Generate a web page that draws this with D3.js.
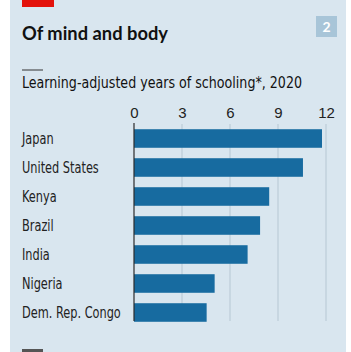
<!DOCTYPE html>
<html lang="en">
  <head>
    <meta charset="UTF-8" />
    <title>Of mind and body</title>
    <script src="https://cdn.jsdelivr.net/npm/d3@7"></script>
    <style>
      body { margin: 0; background: #fff; }
      svg { display: block; }
      text { font-family: "Liberation Sans Narrow", "DejaVu Sans Condensed", sans-serif; }
    </style>
  </head>
  <body>
    <svg width="351" height="352"></svg>
    <script>
      // countries and learning-adjusted years of schooling, 2020
      const countries = ["Japan", "United States", "Kenya", "Brazil", "India", "Nigeria", "Dem. Rep. Congo"];
      const years = [11.75, 10.56, 8.45, 7.88, 7.1, 5.04, 4.54];
      const ticks = [0, 3, 6, 9, 12];

      const svg = d3.select("svg");

      // squeeze a text so it is w pixels wide
      function squeeze(sel, w) {
        sel.each(function () {
          const n = this.getComputedTextLength();
          const tw = typeof w === "function" ? w(n) : w;
          d3.select(this).attr("textLength", tw).attr("lengthAdjust", "spacingAndGlyphs");
        });
      }

      // panel
      svg.append("rect").attr("x", 10).attr("y", 0).attr("width", 336).attr("height", 352).attr("fill", "#d9e6ef");
      svg.append("rect").attr("x", 22).attr("y", 0).attr("width", 32).attr("height", 7).attr("fill", "#e3120b");
      svg.append("text").attr("x", 22).attr("y", 40).text("Of mind and body")
        .attr("font-size", 18).attr("font-weight", "bold").attr("fill", "#111")
        .style("font-family", "Lato, 'Open Sans', sans-serif").call(squeeze, 146);
      svg.append("rect").attr("x", 316).attr("y", 16).attr("width", 21).attr("height", 21).attr("fill", "#a8c5d8");
      svg.append("text").attr("x", 326.5).attr("y", 32).attr("text-anchor", "middle").text("2")
        .attr("font-size", 14).attr("font-weight", "bold").attr("fill", "#fff")
        .style("font-family", "Lato, sans-serif");

      svg.append("line").attr("x1", 22).attr("x2", 43).attr("y1", 70).attr("y2", 70).attr("stroke", "#333").attr("stroke-width", 1);
      svg.append("text").attr("x", 22).attr("y", 88).text("Learning-adjusted years of schooling*, 2020")
        .attr("font-size", 16).attr("fill", "#111").call(squeeze, 280);

      const x = d3.scaleLinear().domain([0, 12]).range([134, 326]);
      const y = d3.scaleBand().domain(countries).range([124, 327]).paddingInner(0.36).paddingOuter(0.18);

      // gridlines
      svg.append("g").selectAll("line").data(ticks.slice(1)).join("line")
        .attr("x1", d => x(d)).attr("x2", d => x(d)).attr("y1", 124).attr("y2", 321)
        .attr("stroke", "#b6c7d3").attr("stroke-width", 1);

      const xAxis = d3.axisTop(x).tickValues(ticks).tickSize(0).tickPadding(0);
      const ax = svg.append("g").attr("transform", "translate(0,118)").call(xAxis);
      ax.select(".domain").remove();
      ax.selectAll("text").attr("font-size", 15).attr("fill", "#222")
        .style("font-family", "'Liberation Sans Narrow', sans-serif");

      svg.append("g").selectAll("rect").data(countries).join("rect")
        .attr("x", x(0)).attr("y", d => y(d))
        .attr("width", (d, i) => x(years[i]) - x(0)).attr("height", y.bandwidth())
        .attr("fill", "#176ba0");

      svg.append("line").attr("x1", x(0)).attr("x2", x(0)).attr("y1", 123).attr("y2", 321)
        .attr("stroke", "#2b2b2b").attr("stroke-width", 1.2);

      svg.append("g").selectAll("text").data(countries).join("text")
        .attr("x", 22).attr("y", d => y(d) + y.bandwidth() / 2 + 5)
        .text(d => d).attr("font-size", 15).attr("fill", "#222")
        .call(squeeze, n => n * 0.84);

      svg.append("rect").attr("x", 22).attr("y", 349).attr("width", 21).attr("height", 3).attr("fill", "#555");
    </script>
  </body>
</html>
